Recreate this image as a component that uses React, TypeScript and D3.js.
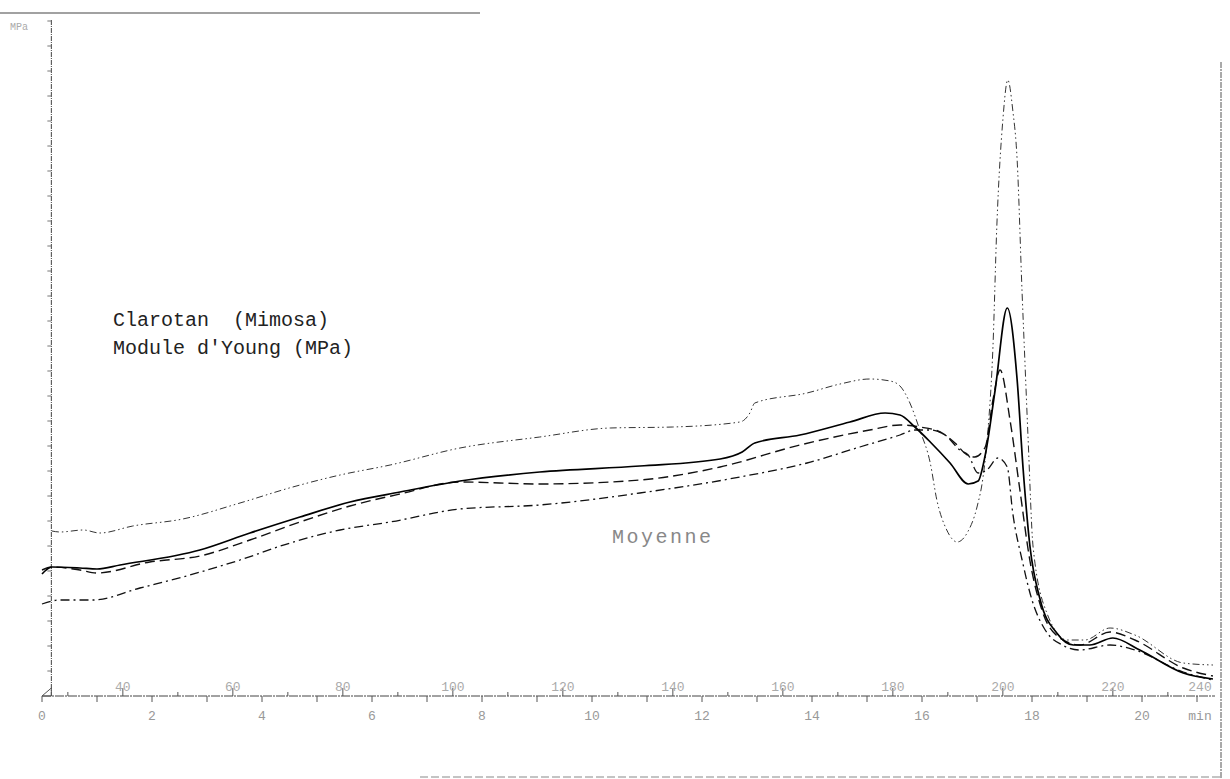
import React from "react";
import * as d3 from "d3";

type P = [number, number];

// time (min), Young's modulus (MPa, arbitrary reading units)
const moyenneSolid: P[] = [
  [0, 1220], [0.18, 1290], [0.69, 1280], [1.0, 1270], [1.42, 1310], [2.87, 1460],
  [3.78, 1630], [4.69, 1790], [5.6, 1940], [6.51, 2040], [7.6, 2150], [9.05, 2240],
  [10.87, 2300], [12.33, 2370], [12.73, 2440], [12.96, 2530], [13.78, 2610],
  [14.69, 2740], [15.33, 2830], [15.6, 2810], [15.87, 2690], [16.15, 2540],
  [16.51, 2330], [16.84, 2120], [17.02, 2150], [17.15, 2410], [17.33, 3060],
  [17.55, 3880], [17.73, 3160], [17.84, 2260], [17.96, 1510], [18.15, 960],
  [18.45, 630], [18.75, 510], [19.05, 510], [19.47, 580], [19.96, 460],
  [20.75, 230], [21.29, 170],
];

const seriesDashed: P[] = [
  [0, 1260], [0.18, 1290], [0.69, 1260], [1.0, 1230], [1.96, 1340], [2.87, 1400],
  [3.78, 1560], [4.69, 1740], [5.6, 1900], [6.51, 2020], [7.6, 2140], [9.05, 2120],
  [10.87, 2160], [12.33, 2290], [13.78, 2510], [15.05, 2660], [15.6, 2710],
  [15.96, 2690], [16.33, 2640], [16.6, 2530], [16.82, 2410], [16.96, 2390],
  [17.15, 2490], [17.29, 2960], [17.42, 3260], [17.6, 2760], [17.78, 2060],
  [17.96, 1360], [18.18, 860], [18.51, 580], [18.87, 510], [19.42, 640],
  [19.87, 560], [20.75, 280], [21.29, 200],
];

const seriesDashDot: P[] = [
  [0, 920], [0.33, 960], [0.93, 960], [1.78, 1080], [2.69, 1210], [3.6, 1360],
  [4.51, 1530], [5.42, 1660], [6.33, 1740], [7.6, 1870], [9.05, 1910],
  [10.87, 2030], [12.69, 2190], [13.91, 2330], [14.87, 2490], [15.6, 2610],
  [15.87, 2660], [16.15, 2660], [16.42, 2610], [16.69, 2460], [16.84, 2410],
  [17.02, 2230], [17.18, 2260], [17.38, 2380], [17.55, 2290], [17.65, 1830],
  [17.82, 1360], [18.0, 960], [18.24, 660], [18.55, 510], [18.87, 460],
  [19.42, 510], [19.87, 460], [20.75, 240], [21.29, 160],
];

const seriesDashDotDot: P[] = [
  [0.18, 1650], [0.33, 1640], [0.75, 1660], [1.05, 1630], [1.65, 1700],
  [2.56, 1770], [3.6, 1930], [4.56, 2090], [5.42, 2210], [6.33, 2310],
  [7.6, 2480], [9.05, 2590], [10.33, 2680], [11.47, 2690], [12.69, 2740],
  [12.87, 2830], [12.96, 2930], [13.91, 3030], [14.51, 3120], [15.05, 3170],
  [15.42, 3150], [15.6, 3100], [15.78, 2930], [15.96, 2660], [16.15, 2330],
  [16.27, 1960], [16.45, 1660], [16.64, 1540], [16.82, 1630], [17.0, 1890],
  [17.11, 2190], [17.2, 2660], [17.29, 3490], [17.36, 4690], [17.47, 5760],
  [17.56, 6160], [17.65, 5860], [17.73, 5360], [17.82, 4030], [17.87, 3360],
  [17.93, 2560], [18.02, 1490], [18.27, 830], [18.64, 560], [18.96, 560],
  [19.42, 680], [19.87, 610], [20.75, 330], [21.29, 310],
];

const timeLabels = [0, 2, 4, 6, 8, 10, 12, 14, 16, 18, 20];
const timeTicks = d3.range(0, 22, 1);
const tempLabels = [40, 60, 80, 100, 120, 140, 160, 180, 200, 220, 240];
const tempTicks = d3.range(30, 241, 10);
const yTicks = d3.range(250, 6800, 250);
const TEMP_AT_T0 = 25.3; // °C at t = 0
const HEAT_RATE = 10; // °C / min

const title1 = "Clarotan  (Mimosa)";
const title2 = "Module d'Young (MPa)";
const meanLabel = "Moyenne";

export default function App() {
  const W = 1230, H = 779;
  const x = d3.scaleLinear().domain([0, 21]).range([42, 42 + 21 * 55]);
  const y = d3.scaleLinear().domain([0, 6800]).range([696, 16]);
  const line = d3
    .line<P>()
    .x((d) => x(d[0]))
    .y((d) => y(d[1]))
    .curve(d3.curveMonotoneX);
  const tx = (T: number) => x((T - TEMP_AT_T0) / HEAT_RATE);
  const axisX = x(0.17);
  const baseY = y(0);
  const mono = "'Liberation Mono', 'DejaVu Sans Mono', monospace";

  const series = [
    { data: seriesDashDotDot, dash: "7,3,1.5,3,1.5,3", w: 1, c: "#333" },
    { data: seriesDashDot, dash: "9,4,2,4", w: 1.3, c: "#111" },
    { data: seriesDashed, dash: "10,5", w: 1.4, c: "#111" },
    { data: moyenneSolid, dash: undefined, w: 1.7, c: "#000" },
  ];

  return (
    <svg width={W} height={H} style={{ position: "absolute", left: 0, top: 0, background: "#fff" }}>
      {/* scan frame */}
      <line x1={0} x2={480} y1={13} y2={13} stroke="#444" strokeWidth={1.2} />
      <line x1={1221} x2={1221} y1={62} y2={779} stroke="#555" strokeWidth={1} strokeDasharray="6,1,2,1" />
      <line x1={420} x2={1221} y1={777} y2={777} stroke="#888" strokeWidth={1} strokeDasharray="8,3" />

      {/* y axis */}
      <line x1={axisX} x2={axisX} y1={20} y2={baseY} stroke="#444" strokeWidth={1} strokeDasharray="5,1,1,1" />
      {yTicks.map((v) => (
        <line key={v} x1={axisX - 4} x2={axisX} y1={y(v)} y2={y(v)} stroke="#777" strokeWidth={1} />
      ))}
      <text x={10} y={30} fontFamily={mono} fontSize={10} fill="#aaa">MPa</text>

      {/* x axis */}
      <line x1={42} x2={1215} y1={baseY} y2={baseY} stroke="#444" strokeWidth={1} strokeDasharray="9,1,2,1" />
      <path d={`M${x(0)},${baseY} L${axisX},${baseY - 8} L${axisX},${baseY} Z`} fill="none" stroke="#555" strokeWidth={1} />
      {timeTicks.map((t) => (
        <line key={t} x1={x(t)} x2={x(t)} y1={baseY} y2={baseY + 6} stroke="#555" strokeWidth={1} />
      ))}
      {timeLabels.map((t) => (
        <text key={t} x={x(t)} y={720} textAnchor="middle" fontFamily={mono} fontSize={13} fill="#999">
          {t}
        </text>
      ))}
      <text x={1200} y={720} textAnchor="middle" fontFamily={mono} fontSize={13} fill="#999">min</text>
      {tempTicks
        .filter((T) => tx(T) < 1215)
        .map((T) => (
          <line key={T} x1={tx(T)} x2={tx(T)} y1={baseY} y2={baseY - (T % 20 === 0 ? 8 : 4)} stroke="#555" strokeWidth={1} />
        ))}
      {tempLabels.map((T) => (
        <text key={T} x={Math.min(tx(T), 1200)} y={694 - 2} dy={-1} textAnchor="middle" fontFamily={mono} fontSize={13} fill="#aaa">
          {T}
        </text>
      ))}

      {/* curves */}
      {series.map((s, i) => (
        <path key={i} d={line(s.data) ?? ""} fill="none" stroke={s.c} strokeWidth={s.w} strokeDasharray={s.dash} />
      ))}

      {/* annotations */}
      <text x={113} y={326} fontFamily={mono} fontSize={20} fill="#222" xmlSpace="preserve" style={{ whiteSpace: "pre" }}>
        {title1}
      </text>
      <text x={113} y={354} fontFamily={mono} fontSize={20} fill="#222" style={{ whiteSpace: "pre" }}>
        {title2}
      </text>
      <text x={612} y={543} fontFamily={mono} fontSize={20} letterSpacing={2.5} fill="#888">
        {meanLabel}
      </text>
    </svg>
  );
}
